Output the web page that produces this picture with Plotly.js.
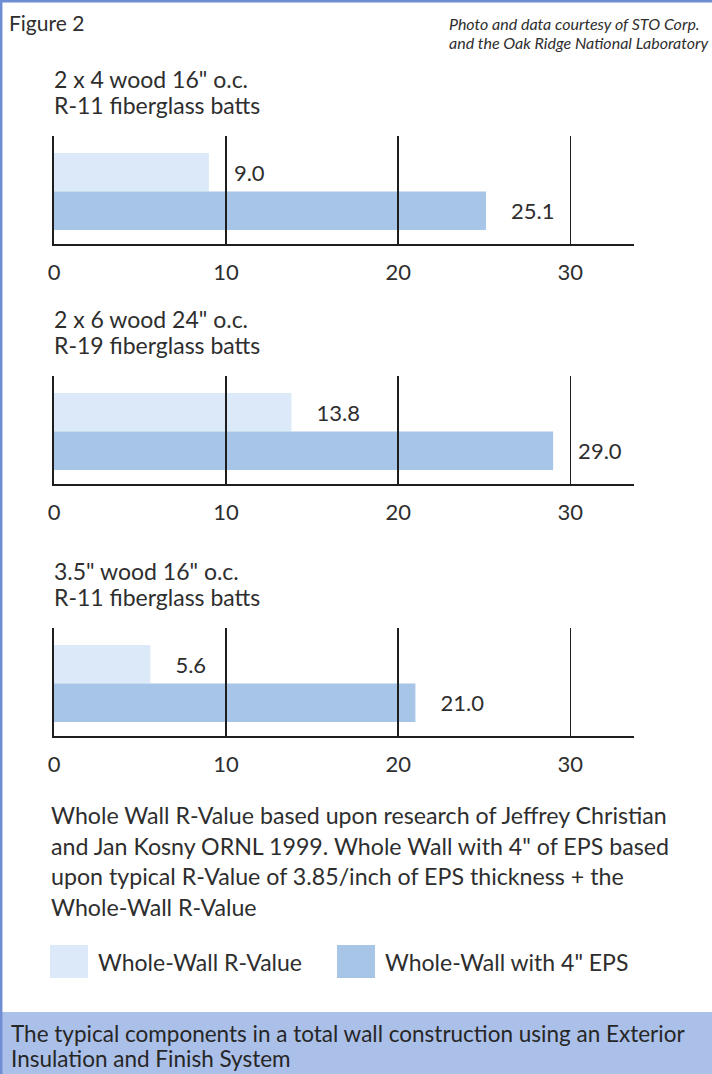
<!DOCTYPE html>
<html>
<head>
<meta charset="utf-8">
<script src="https://cdn.plot.ly/plotly-3.0.1.min.js"></script>
<style>
  html, body { margin: 0; padding: 0; background: #ffffff; }
  #chart { width: 712px; height: 1074px; }
</style>
</head>
<body>
<div id="chart"></div>
<script>
// ---------------- data ----------------
const SERIES = ['Whole-Wall R-Value', 'Whole-Wall with 4" EPS'];
const PANEL_TITLES = [
  ['2 x 4 wood 16" o.c.', 'R-11 fiberglass batts'],
  ['2 x 6 wood 24" o.c.', 'R-19 fiberglass batts'],
  ['3.5" wood 16" o.c.', 'R-11 fiberglass batts']
];
const WHOLE_WALL = [9.0, 13.8, 5.6];
const WITH_EPS = [25.1, 29.0, 21.0];
const TICK_VALUES = [0, 10, 20, 30];
const TICK_LABELS = ['0', '10', '20', '30'];
const FIGURE_LABEL = 'Figure 2';
const CREDIT_LINES = ['Photo and data courtesy of STO Corp.', 'and the Oak Ridge National Laboratory'];
const NOTE_LINES = [
  'Whole Wall R-Value based upon research of Jeffrey Christian',
  'and Jan Kosny ORNL 1999. Whole Wall with 4" of EPS based',
  'upon typical R-Value of 3.85/inch of EPS thickness + the',
  'Whole-Wall R-Value'
];
const CAPTION_LINES = [
  'The typical components in a total wall construction using an Exterior',
  'Insulation and Finish System'
];

// ---------------- style ----------------
const W = 712, H = 1074;
const FONT = 'Lato, "Open Sans", sans-serif';
const TEXT = '#2e2e2e';
const LIGHT = '#dce9f8';
const DARK = '#a6c5e7';
const FRAME = '#6f8dd2';
const BAND = '#abc0e8';
const AXIS = '#1e1e1e';
const px = x => x / W;
const py = y => 1 - y / H;

const PLOT_LEFT = 54, PLOT_RIGHT = 634;
const PANEL_TOPS = [136, 376, 628];
const PANEL_H = 108;
const X_MAX = 33.7;

const data = [];
const layout = {
  width: W, height: H,
  margin: {l: 0, r: 0, t: 0, b: 0, pad: 0},
  paper_bgcolor: '#ffffff',
  plot_bgcolor: 'rgba(0,0,0,0)',
  showlegend: false,
  barmode: 'overlay',
  font: {family: FONT, color: TEXT},
  shapes: [],
  annotations: []
};

PANEL_TITLES.forEach((titles, i) => {
  const n = i === 0 ? '' : String(i + 1);
  const xa = 'x' + n, ya = 'y' + n;
  const top = PANEL_TOPS[i];
  const bottom = top + PANEL_H;
  layout['xaxis' + n] = {
    domain: [px(PLOT_LEFT), px(PLOT_RIGHT)],
    range: [0, X_MAX],
    anchor: ya,
    tickmode: 'array',
    tickvals: TICK_VALUES,
    ticktext: TICK_LABELS,
    ticks: 'inside',
    ticklen: PANEL_H,
    tickwidth: 1.6,
    tickcolor: AXIS,
    showline: true,
    linecolor: AXIS,
    linewidth: 2,
    showgrid: false,
    zeroline: false,
    layer: 'above traces',
    ticklabelstandoff: 8,
    tickfont: {family: FONT, size: 22, color: TEXT},
    fixedrange: true
  };
  layout['yaxis' + n] = {
    domain: [py(bottom), py(top)],
    anchor: xa,
    type: 'category',
    categoryorder: 'array',
    categoryarray: [SERIES[1], SERIES[0]],
    range: [-0.864, 1.941],
    showticklabels: false,
    showline: true,
    linecolor: AXIS,
    linewidth: 1.6,
    layer: 'above traces',
    showgrid: false,
    zeroline: false,
    ticks: '',
    fixedrange: true
  };
  const vals = [WHOLE_WALL[i], WITH_EPS[i]];
  const cols = [LIGHT, DARK];
  SERIES.forEach((name, s) => {
    data.push({
      type: 'bar',
      orientation: 'h',
      name: name,
      x: [vals[s]],
      y: [name],
      xaxis: xa, yaxis: ya,
      width: 1,
      marker: {color: cols[s], line: {width: 0}},
      texttemplate: '\u2002\u2002%{x:.1f}',
      textposition: 'outside',
      textfont: {family: FONT, size: 22, color: TEXT},
      cliponaxis: false,
      constraintext: 'none',
      hoverinfo: 'skip'
    });
  });
  titles.forEach((t, k) => {
    layout.annotations.push({
      text: t, xref: 'paper', yref: 'paper',
      x: px(52), y: py(top - 57.5 + k * 26),
      xanchor: 'left', yanchor: 'middle', showarrow: false,
      font: {family: FONT, size: 23, color: TEXT}
    });
  });
});

// header
layout.annotations.push({
  text: FIGURE_LABEL, xref: 'paper', yref: 'paper',
  x: px(7), y: py(22), xanchor: 'left', yanchor: 'middle', showarrow: false,
  font: {family: FONT, size: 21, color: TEXT}
});
CREDIT_LINES.forEach((t, k) => {
  layout.annotations.push({
    text: '<i>' + t + '</i>', xref: 'paper', yref: 'paper',
    x: px(447), y: py(24 + k * 19), xanchor: 'left', yanchor: 'middle', showarrow: false,
    font: {family: FONT, size: 16, color: TEXT}
  });
});
// note paragraph
NOTE_LINES.forEach((t, k) => {
  layout.annotations.push({
    text: t, xref: 'paper', yref: 'paper',
    x: px(49), y: py(815 + k * 30.7), xanchor: 'left', yanchor: 'middle', showarrow: false,
    font: {family: FONT, size: 23.2, color: TEXT}
  });
});
// legend (custom swatches)
const LEG = [{x0: 50, x1: 88, tx: 96, c: LIGHT}, {x0: 337, x1: 375, tx: 383, c: DARK}];
SERIES.forEach((name, s) => {
  const L = LEG[s];
  layout.shapes.push({
    type: 'rect', xref: 'paper', yref: 'paper',
    x0: px(L.x0), x1: px(L.x1), y0: py(978), y1: py(945),
    fillcolor: L.c, line: {width: 0}, layer: 'below'
  });
  layout.annotations.push({
    text: name, xref: 'paper', yref: 'paper',
    x: px(L.tx), y: py(962), xanchor: 'left', yanchor: 'middle', showarrow: false,
    font: {family: FONT, size: 23, color: TEXT}
  });
});
// bottom caption band
layout.shapes.push({
  type: 'rect', xref: 'paper', yref: 'paper',
  x0: 0, x1: 1, y0: 0, y1: py(1012),
  fillcolor: BAND, line: {width: 0}, layer: 'below'
});
CAPTION_LINES.forEach((t, k) => {
  layout.annotations.push({
    text: t, xref: 'paper', yref: 'paper',
    x: px(9), y: py(1033 + k * 25), xanchor: 'left', yanchor: 'middle', showarrow: false,
    font: {family: FONT, size: 22.5, color: '#262626'}
  });
});
// frame (left and top edges)
layout.shapes.push({
  type: 'line', xref: 'paper', yref: 'paper',
  x0: px(1.2), x1: px(1.2), y0: 0, y1: 1, line: {color: FRAME, width: 2.5}
});
layout.shapes.push({
  type: 'line', xref: 'paper', yref: 'paper',
  x0: 0, x1: 1, y0: py(1.2), y1: py(1.2), line: {color: FRAME, width: 2.5}
});

Plotly.newPlot('chart', data, layout, {displayModeBar: false, staticPlot: true});
</script>
</body>
</html>
